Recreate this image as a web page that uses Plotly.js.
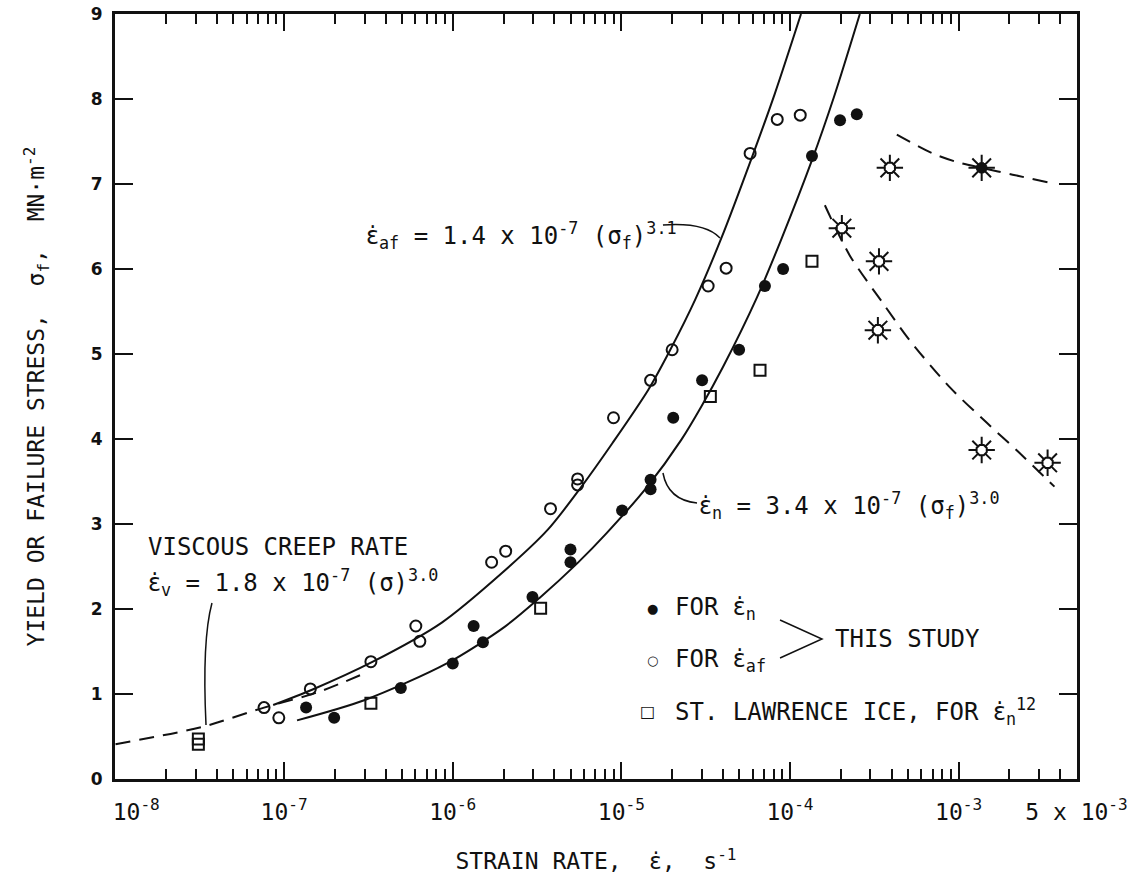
<!DOCTYPE html>
<html><head><meta charset="utf-8">
<script src="https://cdn.plot.ly/plotly-3.0.1.min.js"></script>
<style>body{margin:0;background:#fff}#chart{width:1135px;height:879px}</style>
</head><body><div id="chart"></div>
<script>
// ---------- data ----------
// open circles: yield/failure stress for eps_af (this study)
const afX = [7.6e-8, 9.3e-8, 1.43e-7, 3.27e-7, 6.04e-7, 6.38e-7, 1.70e-6, 2.06e-6, 3.80e-6, 5.5e-6, 5.5e-6, 8.98e-6, 1.49e-5, 2.0e-5, 3.27e-5, 4.18e-5, 5.8e-5, 8.4e-5, 1.15e-4];
const afY = [0.84, 0.72, 1.06, 1.38, 1.80, 1.62, 2.55, 2.68, 3.18, 3.53, 3.46, 4.25, 4.69, 5.05, 5.80, 6.01, 7.36, 7.76, 7.81];
// filled circles: for eps_n (this study)
const nX = [1.35e-7, 1.98e-7, 4.92e-7, 1.0e-6, 1.33e-6, 1.51e-6, 2.97e-6, 4.99e-6, 4.99e-6, 1.01e-5, 1.49e-5, 1.49e-5, 2.03e-5, 3.01e-5, 4.99e-5, 7.1e-5, 9.1e-5, 1.35e-4, 1.98e-4, 2.49e-4];
const nY = [0.84, 0.72, 1.07, 1.36, 1.80, 1.61, 2.14, 2.70, 2.55, 3.16, 3.52, 3.41, 4.25, 4.69, 5.05, 5.80, 6.00, 7.33, 7.75, 7.82];
// squares: St. Lawrence ice
const slX = [3.1e-8, 3.1e-8, 3.27e-7, 3.32e-6, 3.37e-5, 6.64e-5, 1.35e-4];
const slY = [0.47, 0.41, 0.89, 2.01, 4.50, 4.81, 6.09];
// sun symbols (brittle failure)
const sunX = [2.03e-4, 3.37e-4, 3.32e-4, 3.91e-4, 1.37e-3, 3.37e-3];
const sunY = [6.48, 6.09, 5.28, 7.19, 3.87, 3.72];
const sunFilledX = [1.37e-3];
const sunFilledY = [7.19];
// fitted curves
const curveAfX = [8.61e-8, 1.464e-7, 3.36e-7, 8.61e-7, 1.95e-6, 3.65e-6, 5.80e-6, 8.84e-6, 1.445e-5, 1.95e-5, 2.74e-5, 3.91e-5, 5.96e-5, 8.15e-5, 1.162e-4];
const curveAfY = [0.87, 1.05, 1.38, 1.84, 2.42, 2.93, 3.44, 3.95, 4.58, 5.05, 5.64, 6.36, 7.32, 8.07, 9.0];
const curveNX = [1.193e-7, 3.015e-7, 9.22e-7, 2.03e-6, 3.27e-6, 5.49e-6, 8.15e-6, 1.425e-5, 2.265e-5, 2.975e-5, 4.01e-5, 6.38e-5, 8.84e-5, 1.35e-4, 1.82e-4, 2.595e-4];
const curveNY = [0.69, 0.93, 1.36, 1.79, 2.13, 2.54, 2.89, 3.44, 3.99, 4.38, 4.85, 5.67, 6.34, 7.28, 8.02, 9.0];
const creepX = [1.0e-8, 3.23e-8, 7.6e-8, 1.58e-7, 3.14e-7];
const creepY = [0.41, 0.61, 0.84, 1.02, 1.26];
const dashUpperX = [4.3e-4, 7.0e-4, 1.01e-3, 1.37e-3, 2.09e-3, 3.37e-3];
const dashUpperY = [7.58, 7.36, 7.25, 7.19, 7.11, 7.02];
const dashLowerX = [1.61e-4, 2.26e-4, 3.55e-4, 5.13e-4, 8.85e-4, 1.47e-3, 2.20e-3, 3.70e-3];
const dashLowerY = [6.75, 6.16, 5.60, 5.16, 4.61, 4.19, 3.87, 3.44];
// ticks
const xTickVals = [1e-8, 1e-7, 1e-6, 1e-5, 1e-4, 1e-3, 5e-3];
const xTickText = ['\u2007\u2007\u200710<sup>-8</sup>', '10<sup>-7</sup>', '10<sup>-6</sup>', '10<sup>-5</sup>', '10<sup>-4</sup>', '10<sup>-3</sup>', '5 x 10<sup>-3</sup>'];
const yTickVals = [0, 1, 2, 3, 4, 5, 6, 7, 8, 9];

// ---------- styling ----------
const MONO = 'DejaVu Sans Mono, Liberation Mono, monospace';
const INK = '#111';
const EPS = '<span style="font-family:DejaVu Sans">ε̇</span>';
const minorVals = [];
for (let d = -8; d <= -3; d++) for (let k = 2; k <= 9; k++) { const v = k * Math.pow(10, d); if (v < 5e-3) minorVals.push(v); }

const solid = {color: INK, width: 2, shape: 'spline', smoothing: 0.8};
const dashed = {color: INK, width: 2, dash: '15px,9px', shape: 'spline', smoothing: 0.8};
const traces = [
  {x: creepX, y: creepY, mode: 'lines', line: dashed, name: 'viscous creep'},
  {x: curveAfX, y: curveAfY, mode: 'lines', line: solid, name: 'fit af'},
  {x: curveNX, y: curveNY, mode: 'lines', line: solid, name: 'fit n'},
  {x: dashUpperX, y: dashUpperY, mode: 'lines', line: dashed, name: 'upper dashed'},
  {x: dashLowerX, y: dashLowerY, mode: 'lines', line: dashed, name: 'lower dashed'},
  {x: afX, y: afY, mode: 'markers', name: 'FOR eps_af', marker: {symbol: 'circle-open', size: 11, color: INK, line: {width: 2, color: INK}}},
  {x: nX, y: nY, mode: 'markers', name: 'FOR eps_n', marker: {symbol: 'circle', size: 12, color: INK}},
  {x: slX, y: slY, mode: 'markers', name: 'St. Lawrence', marker: {symbol: 'square-open', size: 11, color: INK, line: {width: 2, color: INK}}},
  {x: sunX, y: sunY, mode: 'markers', name: 'sun rays', marker: {symbol: 'asterisk-open', size: 22, color: INK, line: {width: 2, color: INK}}},
  {x: sunX, y: sunY, mode: 'markers', name: 'sun core', marker: {symbol: 'octagon', size: 11, color: '#fff', line: {width: 2, color: INK}}},
  {x: sunFilledX, y: sunFilledY, mode: 'markers', name: 'filled sun rays', marker: {symbol: 'asterisk-open', size: 22, color: INK, line: {width: 2, color: INK}}},
  {x: sunFilledX, y: sunFilledY, mode: 'markers', name: 'filled sun core', marker: {symbol: 'octagon', size: 11, color: INK, line: {width: 1, color: INK}}}
];

const L = Math.log10;
const txt = (x, y, text, extra) => Object.assign({xref: 'x', yref: 'y', x: L(x), y: y, text: text, showarrow: false, xanchor: 'left', yanchor: 'middle', font: {family: MONO, size: 24, color: INK}}, extra || {});
const annotations = [
  txt(2.97e-7, 6.39, EPS + '<sub>af</sub> = 1.4 x 10<sup>-7</sup> (σ<sub>f</sub>)<sup>3.1</sup>'),
  txt(2.82e-5, 3.22, EPS + '<sub>n</sub> = 3.4 x 10<sup>-7</sup> (σ<sub>f</sub>)<sup>3.0</sup>'),
  txt(1.52e-8, 2.73, 'VISCOUS CREEP RATE'),
  txt(1.52e-8, 2.31, EPS + '<sub>v</sub> = 1.8 x 10<sup>-7</sup> (σ)<sup>3.0</sup>'),
  txt(1.52e-5, 2.01, '●', {xanchor: 'center', font: {family: 'DejaVu Sans', size: 13, color: INK}}),
  txt(1.52e-5, 1.40, '○', {xanchor: 'center', font: {family: 'DejaVu Sans', size: 13, color: INK}}),
  txt(1.43e-5, 0.79, '□', {xanchor: 'center', font: {family: 'DejaVu Sans', size: 16, color: INK}}),
  txt(2.03e-5, 2.01, 'FOR ' + EPS + '<sub>n</sub>'),
  txt(2.03e-5, 1.40, 'FOR ' + EPS + '<sub>af</sub>'),
  txt(2.03e-5, 0.79, 'ST. LAWRENCE ICE, FOR ' + EPS + '<sub>n</sub><sup>12</sup>'),
  txt(1.80e-4, 1.65, 'THIS STUDY')
];

// leader lines and brace (paper coordinates of the plot frame)
const P = (px, py) => ((px - 115) / 962).toFixed(4) + ',' + ((779 - py) / 765).toFixed(4);
const lead = {type: 'path', xref: 'paper', yref: 'paper', line: {color: INK, width: 1.5}};
const shapes = [
  Object.assign({}, lead, {path: 'M' + P(663, 225) + ' Q' + P(705, 222) + ' ' + P(720, 238)}),
  Object.assign({}, lead, {path: 'M' + P(663, 473) + ' Q' + P(668, 500) + ' ' + P(697, 503)}),
  Object.assign({}, lead, {path: 'M' + P(212, 603) + ' Q' + P(202, 640) + ' ' + P(206, 725)}),
  Object.assign({}, lead, {path: 'M' + P(780, 620) + ' L' + P(822, 639) + ' L' + P(780, 658)})
];

const layout = {
  width: 1135, height: 879,
  margin: {l: 115, r: 58, t: 14, b: 100},
  paper_bgcolor: '#fff', plot_bgcolor: '#fff',
  showlegend: false,
  xaxis: {
    type: 'log', range: [-8.003, L(5e-3) + 0.003],
    tickmode: 'array', tickvals: xTickVals, ticktext: xTickText,
    ticks: 'inside', ticklen: 17, tickwidth: 2, tickcolor: INK,
    showline: true, linewidth: 3, linecolor: INK, mirror: 'ticks',
    showgrid: false, zeroline: false,
    minor: {tickmode: 'array', tickvals: minorVals, ticks: 'inside', ticklen: 10, tickwidth: 2, tickcolor: INK, showgrid: false},
    tickfont: {family: MONO, size: 23, color: INK},
    ticklabelstandoff: 10,
    title: {text: 'STRAIN RATE,  ' + EPS + ',  s<sup>-1</sup>', font: {family: MONO, size: 23, color: INK}, standoff: 30}
  },
  yaxis: {
    range: [0, 9], tickmode: 'array', tickvals: yTickVals,
    ticks: 'inside', ticklen: 18, tickwidth: 2, tickcolor: INK,
    showline: true, linewidth: 3, linecolor: INK, mirror: 'ticks',
    showgrid: false, zeroline: false,
    tickfont: {family: 'DejaVu Sans', size: 17, color: INK, weight: 'bold'},
    ticklabelstandoff: 6,
    title: {text: 'YIELD OR FAILURE STRESS,  σ<sub>f</sub>,  MN·m<sup>-2</sup>', font: {family: MONO, size: 23, color: INK}, standoff: 40}
  },
  annotations: annotations,
  shapes: shapes
};
Plotly.newPlot('chart', traces, layout, {displayModeBar: false, staticPlot: true});
</script></body></html>
